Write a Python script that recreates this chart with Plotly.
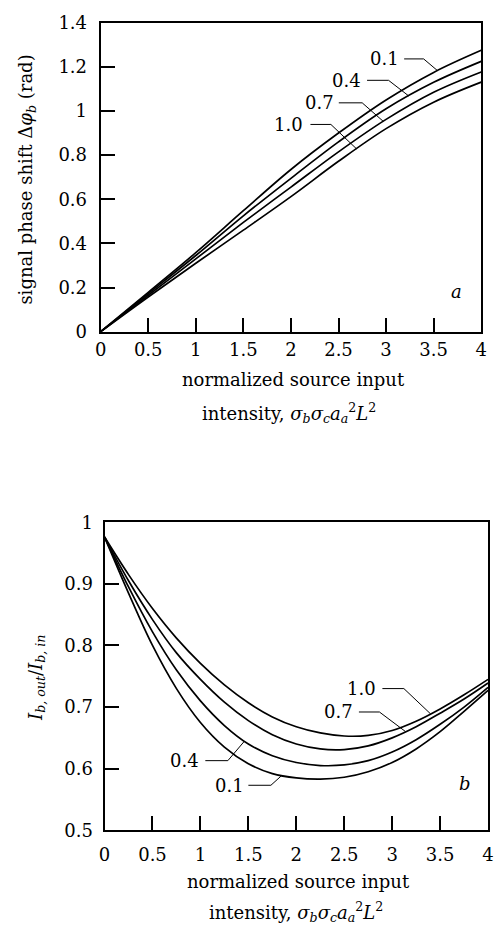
import numpy as np
import plotly.graph_objects as go

W, H = 496, 938
FONT = "DejaVu Serif"

# ---------------- data: panel a (signal phase shift) ----------------
x_a = [0, 0.5, 1, 1.5, 2, 2.5, 3, 3.5, 4]
phase_01 = [0, 0.178, 0.358, 0.548, 0.735, 0.900, 1.050, 1.175, 1.275]
phase_04 = [0, 0.172, 0.345, 0.525, 0.695, 0.860, 1.010, 1.130, 1.225]
phase_07 = [0, 0.165, 0.330, 0.495, 0.655, 0.815, 0.962, 1.085, 1.177]
phase_10 = [0, 0.157, 0.310, 0.460, 0.612, 0.772, 0.920, 1.040, 1.131]

# ---------------- data: panel b (transmission) ----------------
x_b = [0, 0.25, 0.5, 0.75, 1, 1.25, 1.5, 1.75, 2, 2.25, 2.5, 2.75, 3, 3.25, 3.5, 3.75, 4]
trans_01 = [0.976, 0.885, 0.800, 0.730, 0.675, 0.635, 0.608, 0.592, 0.585, 0.583, 0.586, 0.595, 0.610, 0.632, 0.660, 0.693, 0.727]
trans_04 = [0.976, 0.895, 0.822, 0.760, 0.710, 0.670, 0.640, 0.621, 0.610, 0.605, 0.606, 0.613, 0.627, 0.647, 0.672, 0.700, 0.732]
trans_07 = [0.976, 0.905, 0.842, 0.788, 0.745, 0.708, 0.678, 0.655, 0.640, 0.632, 0.631, 0.637, 0.650, 0.668, 0.690, 0.713, 0.739]
trans_10 = [0.976, 0.915, 0.860, 0.812, 0.771, 0.736, 0.707, 0.684, 0.668, 0.658, 0.653, 0.654, 0.662, 0.677, 0.697, 0.720, 0.745]

params = ["0.1", "0.4", "0.7", "1.0"]
phase_series = [phase_01, phase_04, phase_07, phase_10]
trans_series = [trans_01, trans_04, trans_07, trans_10]

# curve label leaders: (text right x, leader y, leader start x, elbow x, attach x on curve)
lead_a = [(3.159, 1.236, 3.19, 3.395, 3.54),
          (2.759, 1.139, 2.80, 3.026, 3.24),
          (2.472, 1.037, 2.503, 2.749, 2.97),
          (2.144, 0.939, 2.205, 2.42, 2.69)]
lead_b = [(1.480, 0.573, 1.50, 1.735, 1.85),
          (1.010, 0.613, 1.051, 1.286, 1.46),
          (2.612, 0.692, 2.653, 2.867, 3.14),
          (2.847, 0.730, 2.898, 3.122, 3.40)]

x_ticks = [0, 0.5, 1, 1.5, 2, 2.5, 3, 3.5, 4]
x_ticktext = ["0", "0.5", "1", "1.5", "2", "2.5", "3", "3.5", "4"]
ya_ticks = [0, 0.2, 0.4, 0.6, 0.8, 1.0, 1.2, 1.4]
ya_ticktext = ["0", "0.2", "0.4", "0.6", "0.8", "1", "1.2", "1.4"]
yb_ticks = [0.5, 0.6, 0.7, 0.8, 0.9, 1.0]
yb_ticktext = ["0.5", "0.6", "0.7", "0.8", "0.9", "1"]

fig = go.Figure()

curve_line = dict(color="black", width=1.7, shape="spline", smoothing=1.0)
lead_line = dict(color="black", width=1.0)

for ys in phase_series:
    fig.add_trace(go.Scatter(x=x_a, y=ys, xaxis="x", yaxis="y", mode="lines",
                             line=curve_line, hoverinfo="skip", showlegend=False))
for ys in trans_series:
    fig.add_trace(go.Scatter(x=x_b, y=ys, xaxis="x2", yaxis="y2", mode="lines",
                             line=curve_line, hoverinfo="skip", showlegend=False))

annotations = []
def add_leaders(leads, xs, series, xa, ya):
    for lab, (tx, ly, sx, ex, ax_), ys in zip(params, leads, series):
        ay = float(np.interp(ax_, xs, ys))
        fig.add_trace(go.Scatter(x=[sx, ex, ax_], y=[ly, ly, ay], xaxis=xa, yaxis=ya,
                                 mode="lines", line=lead_line, hoverinfo="skip", showlegend=False))
        annotations.append(dict(x=tx, y=ly, xref=xa, yref=ya, text=lab, showarrow=False,
                                xanchor="right", yanchor="middle",
                                font=dict(family=FONT, size=18, color="black")))

add_leaders(lead_a, x_a, phase_series, "x", "y")
add_leaders(lead_b, x_b, trans_series, "x2", "y2")

def px(xp):
    return xp / W
def py(yp):
    return 1 - yp / H

title_font = dict(family=FONT, size=18, color="black")
texts = [
    (295, 377, "normalized source input", 0),
    (290, 411, "intensity, <i>σ</i><sub><i>b</i></sub><i>σ</i><sub><i>c</i></sub><i>a</i><sub><i>a</i></sub><sup>2</sup><i>L</i><sup>2</sup>", 0),
    (300, 890, "normalized source input", 0),
    (297, 922, "intensity, <i>σ</i><sub><i>b</i></sub><i>σ</i><sub><i>c</i></sub><i>a</i><sub><i>a</i></sub><sup>2</sup><i>L</i><sup>2</sup>", 0),
    (22, 172, "signal phase shift Δ<i>φ</i><sub><i>b</i></sub> (rad)", -90),
    (31, 682, "<i>I</i><sub><i>b, out</i></sub>/<i>I</i><sub><i>b, in</i></sub>", -90),
    (462, 287, "<i>a</i>", 0),
    (470, 790, "<i>b</i>", 0),
]
for xp, yp, t, ang in texts:
    annotations.append(dict(x=px(xp), y=py(yp), xref="paper", yref="paper", text=t,
                            showarrow=False, xanchor="center", yanchor="middle",
                            textangle=ang, font=title_font))

axis_common = dict(showgrid=False, zeroline=False, showline=True, linecolor="black",
                   linewidth=2, mirror=True, ticks="inside", ticklen=14, tickwidth=1.5,
                   tickcolor="black", tickfont=dict(family=FONT, size=18, color="black"))

fig.update_layout(
    width=W, height=H,
    margin=dict(l=0, r=0, t=0, b=0),
    paper_bgcolor="white", plot_bgcolor="white",
    showlegend=False,
    xaxis=dict(domain=[px(97), px(487)], range=[0, 4], anchor="y",
               tickvals=x_ticks, ticktext=x_ticktext, ticklabelstandoff=1, **axis_common),
    yaxis=dict(domain=[py(328), py(12)], range=[0, 1.4], anchor="x",
               tickvals=ya_ticks, ticktext=ya_ticktext, ticklabelstandoff=8, **axis_common),
    xaxis2=dict(domain=[px(101), px(494)], range=[0, 4], anchor="y2",
                tickvals=x_ticks, ticktext=x_ticktext, ticklabelstandoff=7, **axis_common),
    yaxis2=dict(domain=[py(838), py(523)], range=[0.5, 1.0], anchor="x2",
                tickvals=yb_ticks, ticktext=yb_ticktext, ticklabelstandoff=6, **axis_common),
    annotations=annotations,
)

fig.write_html("out.html",
               post_script="document.body.style.margin='0';document.body.style.overflow='hidden';")
